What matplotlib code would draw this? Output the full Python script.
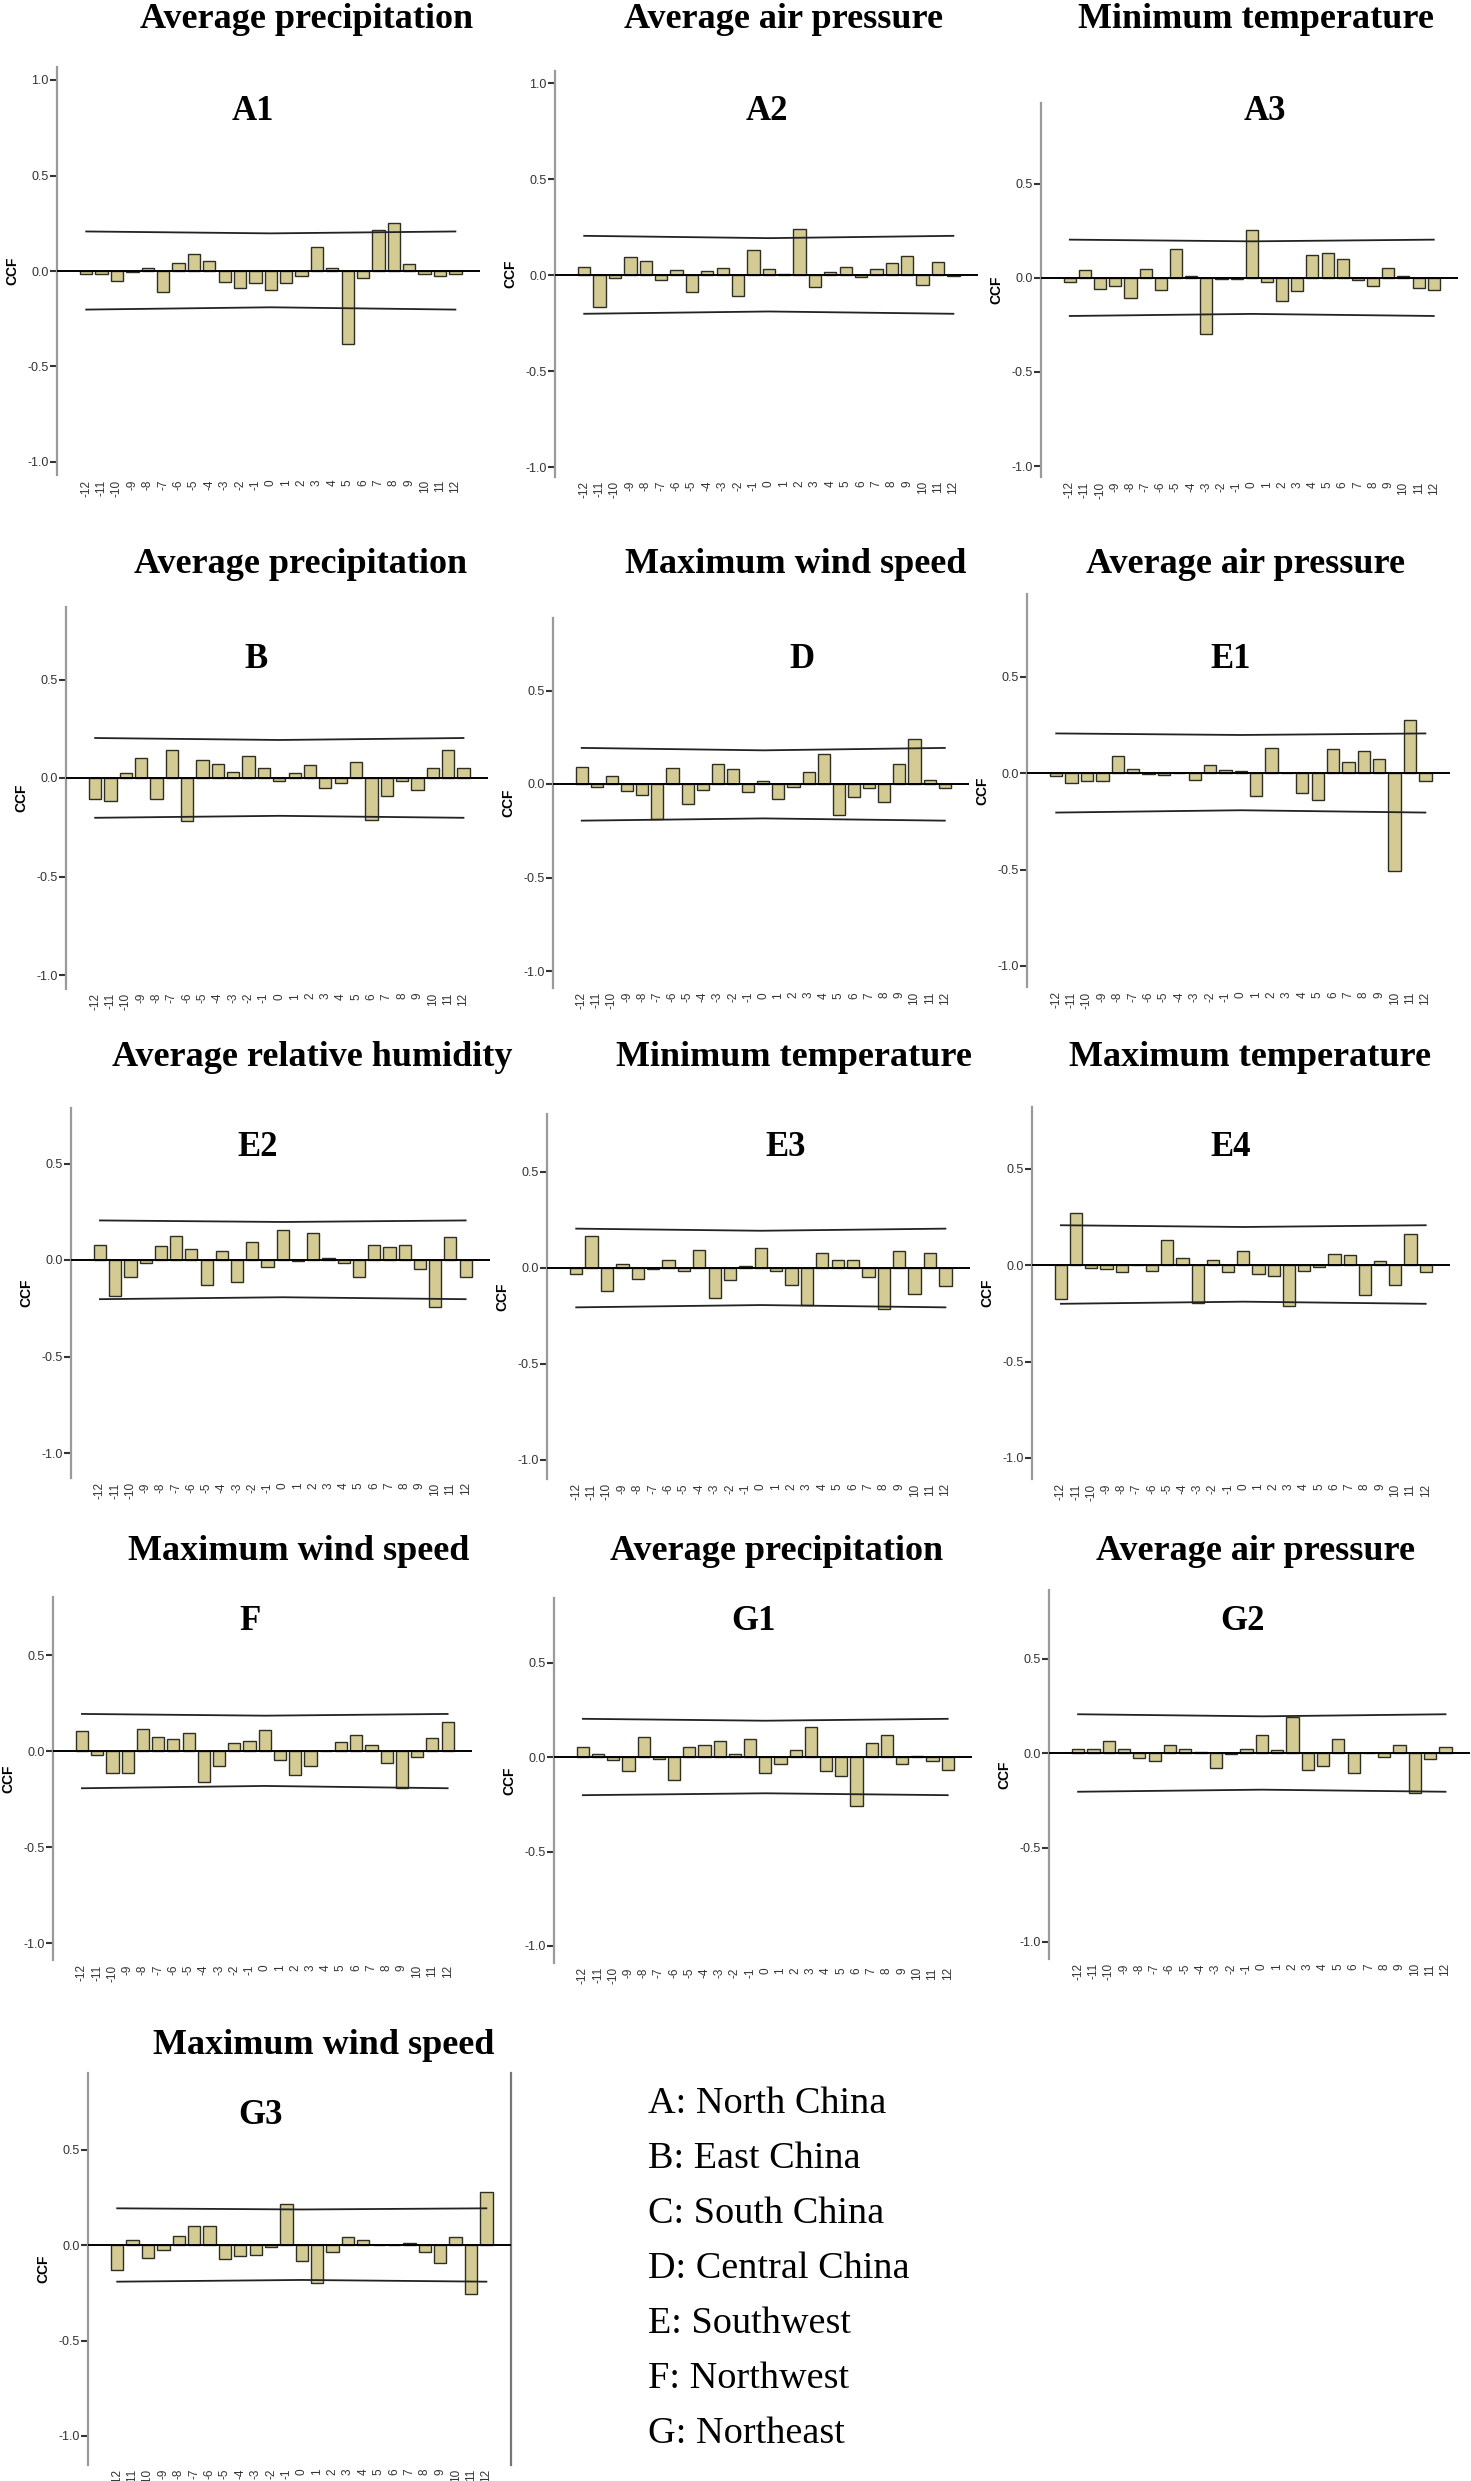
import matplotlib
matplotlib.use("Agg")
import matplotlib.pyplot as plt

W, H = 1471, 2481

lags = list(range(-12, 13))
lag_labels = [str(k) for k in lags]
conf_lags = [-12, 0, 12]

# CCF values, lag -12 ... 12
a1_ccf = [-0.015, -0.018, -0.054, -0.003, 0.017, -0.11, 0.04, 0.087, 0.054, -0.057,
          -0.089, -0.064, -0.098, -0.064, -0.028, 0.127, 0.017, -0.38, -0.035, 0.214,
          0.249, 0.038, -0.014, -0.024, -0.017]
a2_ccf = [0.04, -0.167, -0.017, 0.096, 0.075, -0.028, 0.026, -0.09, 0.019, 0.038,
          -0.111, 0.132, 0.033, 0.005, 0.242, -0.063, 0.016, 0.04, -0.012, 0.03,
          0.063, 0.098, -0.05, 0.07, -0.005]
a3_ccf = [-0.023, 0.043, -0.059, -0.044, -0.106, 0.05, -0.062, 0.156, 0.009, -0.30,
          -0.007, -0.003, 0.255, -0.02, -0.122, -0.069, 0.121, 0.133, 0.101, -0.012,
          -0.043, 0.053, 0.009, -0.051, -0.062]
b_ccf = [-0.105, -0.119, 0.024, 0.103, -0.105, 0.141, -0.219, 0.09, 0.069, 0.032,
         0.112, 0.053, -0.017, 0.024, 0.064, -0.051, -0.025, 0.081, -0.212, -0.093,
         -0.017, -0.059, 0.053, 0.141, 0.053]
d_ccf = [0.093, -0.018, 0.043, -0.038, -0.061, -0.186, 0.084, -0.109, -0.03, 0.107,
         0.08, -0.045, 0.016, -0.082, -0.018, 0.066, 0.161, -0.168, -0.071, -0.021,
         -0.096, 0.109, 0.243, 0.02, -0.02]
e1_ccf = [-0.014, -0.05, -0.04, -0.043, 0.088, 0.019, -0.007, -0.009, 0.002, -0.036,
          0.041, 0.014, 0.01, -0.121, 0.131, 0.001, -0.105, -0.14, 0.124, 0.059,
          0.116, 0.071, -0.507, 0.274, -0.04]
e2_ccf = [0.076, -0.184, -0.09, -0.014, 0.071, 0.124, 0.057, -0.131, 0.048, -0.114,
          0.091, -0.034, 0.155, -0.005, 0.14, 0.012, -0.014, -0.086, 0.079, 0.066,
          0.076, -0.047, -0.241, 0.121, -0.09]
e3_ccf = [-0.033, 0.168, -0.122, 0.021, -0.056, -0.007, 0.043, -0.016, 0.094, -0.156,
          -0.063, 0.009, 0.106, -0.014, -0.087, -0.193, 0.076, 0.042, 0.04, -0.049,
          -0.214, 0.089, -0.137, 0.08, -0.094]
e4_ccf = [-0.176, 0.268, -0.017, -0.021, -0.038, 0.001, -0.031, 0.131, 0.035, -0.197,
          0.028, -0.036, 0.074, -0.045, -0.057, -0.211, -0.031, -0.01, 0.055, 0.054,
          -0.157, 0.019, -0.106, 0.163, -0.038]
f_ccf = [0.106, -0.019, -0.113, -0.113, 0.115, 0.075, 0.064, 0.092, -0.16, -0.076,
         0.042, 0.054, 0.109, -0.047, -0.127, -0.076, 0.001, 0.049, 0.082, 0.033,
         -0.063, -0.194, -0.031, 0.068, 0.149]
g1_ccf = [0.053, 0.016, -0.014, -0.072, 0.106, -0.009, -0.121, 0.051, 0.063, 0.085,
          0.018, 0.097, -0.083, -0.037, 0.035, 0.16, -0.076, -0.1, -0.257, 0.074,
          0.114, -0.039, 0.005, -0.021, -0.069]
g2_ccf = [0.019, 0.019, 0.065, 0.023, -0.027, -0.044, 0.041, 0.023, 0.004, -0.08,
          -0.007, 0.021, 0.095, 0.018, 0.193, -0.088, -0.069, 0.076, -0.108, 0.002,
          -0.021, 0.042, -0.212, -0.032, 0.034]
g3_ccf = [-0.129, 0.024, -0.068, -0.028, 0.047, 0.099, 0.099, -0.071, -0.056, -0.051,
          -0.012, 0.214, -0.084, -0.2, -0.037, 0.042, 0.026, -0.002, -0.002, 0.009,
          -0.038, -0.096, 0.042, -0.254, 0.275]

# confidence limits at lag -12, 0, 12
a1_upper, a1_lower = [0.207, 0.197, 0.207], [-0.202, -0.19, -0.202]
a2_upper, a2_lower = [0.204, 0.192, 0.204], [-0.202, -0.19, -0.202]
a3_upper, a3_lower = [0.204, 0.195, 0.204], [-0.202, -0.191, -0.202]
b_upper, b_lower = [0.203, 0.193, 0.203], [-0.202, -0.192, -0.202]
d_upper, d_lower = [0.193, 0.18, 0.193], [-0.196, -0.184, -0.196]
e1_upper, e1_lower = [0.205, 0.197, 0.205], [-0.205, -0.193, -0.205]
e2_upper, e2_lower = [0.205, 0.197, 0.205], [-0.203, -0.193, -0.203]
e3_upper, e3_lower = [0.205, 0.194, 0.205], [-0.205, -0.193, -0.205]
e4_upper, e4_lower = [0.206, 0.197, 0.206], [-0.201, -0.19, -0.201]
f_upper, f_lower = [0.193, 0.184, 0.193], [-0.194, -0.182, -0.194]
g1_upper, g1_lower = [0.202, 0.192, 0.202], [-0.202, -0.192, -0.202]
g2_upper, g2_lower = [0.205, 0.194, 0.205], [-0.205, -0.194, -0.205]
g3_upper, g3_lower = [0.192, 0.186, 0.192], [-0.192, -0.183, -0.192]

panel_ids = ["A1", "A2", "A3", "B", "D", "E1", "E2", "E3", "E4", "F", "G1", "G2", "G3"]
panel_titles = ["Average precipitation", "Average air pressure", "Minimum temperature",
                "Average precipitation", "Maximum wind speed", "Average air pressure",
                "Average relative humidity", "Minimum temperature", "Maximum temperature",
                "Maximum wind speed", "Average precipitation", "Average air pressure",
                "Maximum wind speed"]
panel_ccf = [a1_ccf, a2_ccf, a3_ccf, b_ccf, d_ccf, e1_ccf, e2_ccf, e3_ccf, e4_ccf,
             f_ccf, g1_ccf, g2_ccf, g3_ccf]
panel_upper = [a1_upper, a2_upper, a3_upper, b_upper, d_upper, e1_upper, e2_upper,
               e3_upper, e4_upper, f_upper, g1_upper, g2_upper, g3_upper]
panel_lower = [a1_lower, a2_lower, a3_lower, b_lower, d_lower, e1_lower, e2_lower,
               e3_lower, e4_lower, f_lower, g1_lower, g2_lower, g3_lower]

legend_lines = ["A: North China", "B: East China", "C: South China", "D: Central China",
                "E: Southwest", "F: Northwest", "G: Northeast"]

# layout in pixels: left spine x, right end x, y of zero, px per unit, ytop, ybottom
layout = [
    (57, 480, 271, 191, 1.07, -1.07),
    (555, 978, 275, 192, 1.06, -1.05),
    (1041, 1458, 278, 188, 0.93, -1.06),
    (66, 488, 778, 197, 0.87, -1.07),
    (553, 969, 784, 187, 0.89, -1.09),
    (1027, 1450, 773, 193, 0.93, -1.11),
    (71, 490, 1260, 193, 0.79, -1.13),
    (547, 970, 1268, 192, 0.80, -1.10),
    (1032, 1450, 1265, 193, 0.82, -1.11),
    (53, 472, 1751, 192, 0.80, -1.09),
    (554, 972, 1757, 189, 0.84, -1.09),
    (1049, 1470, 1753, 189, 0.86, -1.09),
    (88, 511, 2245, 191, 0.90, -1.15),
]
title_pos = [(307, 19), (784, 19), (1256, 19),
             (301, 565), (796, 565), (1245, 565),
             (312, 1058), (794, 1058), (1250, 1058),
             (299, 1552), (777, 1552), (1255, 1552),
             (324, 2045)]
id_x = [253, 767, 1265, 256, 802, 1231, 258, 786, 1231, 250, 753, 1242, 261]
id_y = [111, 111, 111, 660, 660, 660, 1148, 1148, 1148, 1621, 1621, 1621, 2115]

bar_face = "#d3cb93"
bar_edge = "#2e2e22"
spine_col = "#9a9a9a"

fig = plt.figure(figsize=(W / 100, H / 100), dpi=100)

for i in range(len(panel_ids)):
    left, right, zy, ppu, ytop, ybot = layout[i]
    top = zy - ppu * ytop
    bottom = zy - ppu * ybot
    ax = fig.add_axes([left / W, 1 - bottom / H, (right - left) / W, (bottom - top) / H])
    ax.bar(lags, panel_ccf[i], width=0.8, color=bar_face, edgecolor=bar_edge,
           linewidth=1.0, zorder=2)
    ax.axhline(0, color="black", lw=1.4, zorder=3)
    ax.plot(conf_lags, panel_upper[i], color="#222222", lw=1.3, zorder=3)
    ax.plot(conf_lags, panel_lower[i], color="#222222", lw=1.3, zorder=3)
    ax.set_xlim(-13.9, 13.6)
    ax.set_ylim(ybot, ytop)

    if ytop >= 1.0:
        yt = [1.0, 0.5, 0.0, -0.5, -1.0]
    else:
        yt = [0.5, 0.0, -0.5, -1.0]
    ax.set_yticks(yt)
    ax.set_yticklabels(["%.1f" % v for v in yt], fontsize=9, family="Liberation Sans",
                       color="#333333")
    ax.tick_params(axis="y", direction="out", length=5, width=1.5, color="#333333", pad=1)
    ax.set_xticks(lags)
    ax.set_xticklabels(lag_labels, rotation=90, fontsize=8.5, family="Liberation Sans",
                       color="#333333")
    ax.tick_params(axis="x", length=0, pad=3)

    for s in ["top", "right", "bottom"]:
        ax.spines[s].set_visible(False)
    ax.spines["left"].set_color(spine_col)
    ax.spines["left"].set_linewidth(1.6)
    if panel_ids[i] == "G3":
        ax.spines["right"].set_visible(True)
        ax.spines["right"].set_color("#777777")
        ax.spines["right"].set_linewidth(1.6)

    ax.set_ylabel("CCF", fontsize=10, fontweight="bold", family="Liberation Sans",
                  labelpad=6)
    ax.patch.set_alpha(0)

    tx, ty = title_pos[i]
    fig.text(tx / W, 1 - ty / H, panel_titles[i], ha="center", va="center",
             fontsize=26, fontweight="bold", family="Liberation Serif")
    fig.text(id_x[i] / W, 1 - id_y[i] / H, panel_ids[i],
             ha="center", va="center", fontsize=25, fontweight="bold",
             family="Liberation Serif")

for j, line in enumerate(legend_lines):
    fig.text(648 / W, 1 - (2104 + 55 * j) / H, line, ha="left", va="center",
             fontsize=27.5, family="Liberation Serif")

fig.savefig("out.png", dpi=100, facecolor="white")
